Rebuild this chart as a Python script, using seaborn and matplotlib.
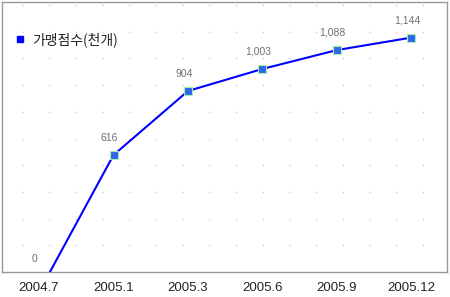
import matplotlib
matplotlib.use("Agg")
import matplotlib.pyplot as plt
import seaborn as sns
import pandas as pd
from matplotlib.lines import Line2D

periods = ["2004.7", "2005.1", "2005.3", "2005.6", "2005.9", "2005.12"]
stores = [0, 616, 904, 1003, 1088, 1144]
value_labels = ["0", "616", "904", "1,003", "1,088", "1,144"]
series_name = "가맹점수(천개)"

sns.set_theme(style="white")
plt.rcParams['font.family'] = ['Liberation Sans', 'Noto Sans CJK KR', 'DejaVu Sans']
plt.rcParams['lines.scale_dashes'] = False

df = pd.DataFrame({"pos": range(len(periods)), "stores": stores})

fig = plt.figure(figsize=(4.5, 2.97), dpi=100)
ax = fig.add_axes([2/450, (297-272)/297, 445/450, 270/297])

ymin, ymax = 90, 1304
for k in range(1, 11):
    ax.axhline(ymin + 120*k, color="#bdbdbd", lw=1.0,
               linestyle=(4.8, (0.72, 18.5)), zorder=0)

sns.lineplot(data=df, x="pos", y="stores", ax=ax, color="#0000ff", lw=1.5,
             marker="s", markersize=5.8, markerfacecolor="#2f66f0",
             markeredgecolor="#a8f0a8", markeredgewidth=0.8, zorder=3)

for x, v, t in zip(df["pos"], stores, value_labels):
    yy = max(v, ymin)
    off = 9 if v < ymin else 12.5
    ax.annotate(t, (x, yy), xytext=(-3, off), textcoords="offset points",
                ha="center", va="center", fontsize=7.5, color="#707070")

ax.set_xlim(-0.497, 5.477)
ax.set_ylim(ymin, ymax)
ax.set_xticks(range(len(periods)))
ax.set_xticklabels(periods, fontsize=9.5, color="#222222")
ax.set_yticks([])
ax.set_xlabel("")
ax.set_ylabel("")
ax.tick_params(axis="x", length=0, pad=7)
for s in ax.spines.values():
    s.set_color("#999999")
    s.set_linewidth(1.0)

handle = Line2D([], [], linestyle="none", marker="s", markersize=4.5,
                markerfacecolor="#0000ff", markeredgecolor="#0000ff")
leg = ax.legend([handle], [series_name], loc="upper left", frameon=False,
                bbox_to_anchor=(0.0, 0.935), handlelength=0.8, handletextpad=0.5,
                prop={"family": ["Noto Sans CJK KR", "DejaVu Sans"], "size": 10})
for t in leg.get_texts():
    t.set_color("#222222")

fig.savefig("out.png", dpi=100)
